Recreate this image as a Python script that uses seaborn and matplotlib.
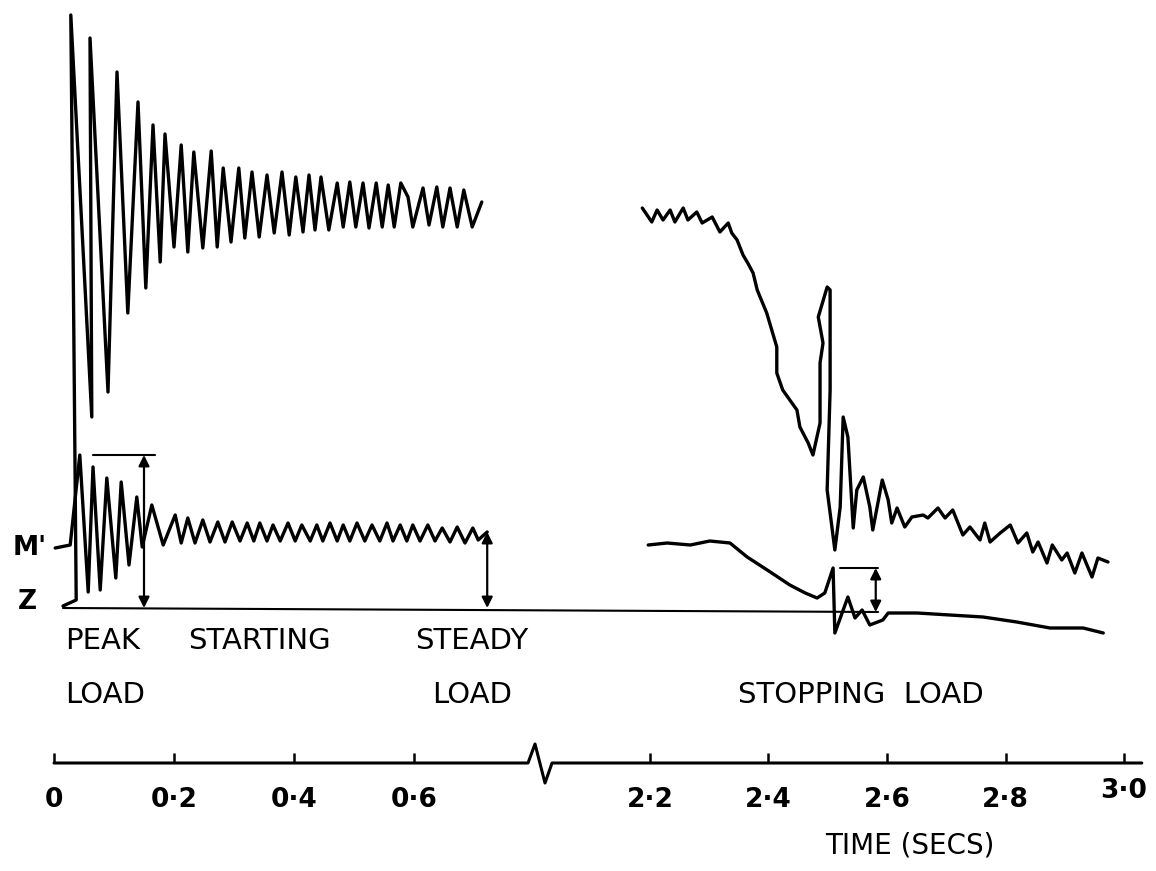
import numpy as np
import pandas as pd
import matplotlib
matplotlib.use("Agg")
import matplotlib.pyplot as plt
import matplotlib.transforms as mtransforms
import seaborn as sns

sns.set_theme(style="white")
plt.rcParams['font.family'] = ['DejaVu Sans']
plt.rcParams['text.color'] = 'black'
plt.rcParams['xtick.color'] = 'black'
plt.rcParams['xtick.labelcolor'] = 'black'

# time in secs, amplitude measured above the Z line (arbitrary units)
# upper trace, starting period
up_start_t = [0.015, 0.037, 0.033, 0.028, 0.063, 0.060, 0.090, 0.105, 0.123, 0.140,
              0.153, 0.165, 0.177, 0.185, 0.200, 0.212, 0.223, 0.233, 0.248, 0.262,
              0.272, 0.282, 0.295, 0.308, 0.318, 0.330, 0.342, 0.355, 0.367, 0.380,
              0.392, 0.403, 0.415, 0.425, 0.435, 0.445, 0.458, 0.472, 0.482, 0.493,
              0.503, 0.515, 0.525, 0.537, 0.547, 0.557, 0.567, 0.578, 0.590, 0.598,
              0.615, 0.625, 0.638, 0.648, 0.660, 0.672, 0.683, 0.697, 0.713]
up_start_a = [0.02, 0.08, 2.78, 5.93, 1.91, 5.70, 2.16, 5.36, 2.95, 5.06,
              3.20, 4.83, 3.46, 4.74, 3.61, 4.63, 3.56, 4.56, 3.60, 4.57,
              3.61, 4.40, 3.66, 4.40, 3.70, 4.36, 3.71, 4.33, 3.75, 4.36,
              3.73, 4.31, 3.76, 4.33, 3.78, 4.31, 3.78, 4.25, 3.81, 4.26,
              3.81, 4.25, 3.80, 4.25, 3.81, 4.23, 3.81, 4.25, 4.11, 3.81,
              4.20, 3.83, 4.21, 3.81, 4.20, 3.81, 4.18, 3.81, 4.06]

# M' trace, starting period
m_start_t = [0.002, 0.027, 0.043, 0.057, 0.065, 0.077, 0.088, 0.103, 0.112, 0.125,
             0.138, 0.147, 0.163, 0.182, 0.202, 0.212, 0.223, 0.235, 0.248, 0.260,
             0.273, 0.285, 0.297, 0.310, 0.322, 0.333, 0.343, 0.355, 0.365, 0.377,
             0.390, 0.402, 0.413, 0.427, 0.438, 0.448, 0.460, 0.472, 0.482, 0.493,
             0.505, 0.518, 0.530, 0.543, 0.555, 0.565, 0.577, 0.588, 0.598, 0.610,
             0.623, 0.635, 0.647, 0.660, 0.672, 0.685, 0.698, 0.707, 0.722]
m_start_a = [0.60, 0.63, 1.53, 0.16, 1.41, 0.18, 1.30, 0.30, 1.26, 0.43,
             1.11, 0.61, 1.03, 0.63, 0.93, 0.65, 0.90, 0.65, 0.88, 0.66,
             0.86, 0.66, 0.86, 0.67, 0.85, 0.67, 0.85, 0.67, 0.83, 0.67,
             0.85, 0.67, 0.83, 0.67, 0.83, 0.67, 0.85, 0.67, 0.83, 0.67,
             0.85, 0.67, 0.83, 0.67, 0.85, 0.67, 0.83, 0.67, 0.83, 0.67,
             0.83, 0.67, 0.80, 0.66, 0.81, 0.65, 0.80, 0.68, 0.76]

# upper trace, stopping period
up_stop_t = [2.187, 2.203, 2.212, 2.222, 2.234, 2.242, 2.256, 2.264, 2.279, 2.288,
             2.305, 2.318, 2.332, 2.338, 2.347, 2.357, 2.365, 2.374, 2.381, 2.397,
             2.414, 2.414, 2.424, 2.448, 2.453, 2.467, 2.475, 2.487, 2.487, 2.492,
             2.484, 2.499, 2.504, 2.504, 2.499, 2.512, 2.521, 2.526, 2.534, 2.543,
             2.549, 2.560, 2.571, 2.576, 2.592, 2.602, 2.608, 2.617, 2.630, 2.642,
             2.661, 2.669, 2.686, 2.698, 2.711, 2.728, 2.740, 2.757, 2.765, 2.774,
             2.791, 2.808, 2.821, 2.836, 2.846, 2.855, 2.870, 2.879, 2.895, 2.904,
             2.917, 2.929, 2.946, 2.956, 2.973]
up_stop_a = [4.00, 3.86, 3.98, 3.88, 3.98, 3.86, 4.00, 3.88, 3.96, 3.85,
             3.91, 3.76, 3.85, 3.75, 3.68, 3.53, 3.45, 3.35, 3.18, 2.95,
             2.61, 2.35, 2.18, 1.98, 1.81, 1.65, 1.53, 1.85, 2.45, 2.65,
             2.91, 3.21, 3.18, 2.18, 1.18, 0.58, 1.01, 1.91, 1.71, 0.80,
             1.18, 1.31, 1.01, 0.78, 1.28, 1.08, 0.85, 1.00, 0.81, 0.91,
             0.93, 0.90, 1.00, 0.90, 0.98, 0.73, 0.81, 0.68, 0.85, 0.66,
             0.75, 0.83, 0.65, 0.75, 0.56, 0.66, 0.45, 0.63, 0.48, 0.55,
             0.35, 0.55, 0.31, 0.50, 0.46]

# M' trace, stopping period
m_stop_t = [2.197, 2.229, 2.268, 2.301, 2.335, 2.364, 2.403, 2.436, 2.462, 2.482,
            2.495, 2.509, 2.512, 2.534, 2.546, 2.558, 2.571, 2.593, 2.602, 2.651,
            2.706, 2.762, 2.819, 2.875, 2.931, 2.965]
m_stop_a = [0.63, 0.65, 0.63, 0.67, 0.65, 0.51, 0.36, 0.23, 0.15, 0.10,
            0.15, 0.40, -0.25, 0.11, -0.10, -0.02, -0.17, -0.12, -0.05, -0.05,
            -0.07, -0.09, -0.14, -0.20, -0.20, -0.25]

# Z line
z_t = [0.015, 2.585]
z_a = [0.0, -0.04]

# time axis with its break mark
axis_level = -1.55
axis_t = [0.0, 0.79, 0.823, 1.052, 1.213, 3.03]
axis_a = [-1.55, -1.55, -1.36, -1.75, -1.55, -1.55]
tick_t = [0.0, 0.2, 0.4, 0.6, 2.2, 2.4, 2.6, 2.8, 3.0]
tick_labels = ["0", "0\u00b72", "0\u00b74", "0\u00b76",
               "2\u00b72", "2\u00b74", "2\u00b76", "2\u00b78", "3\u00b70"]

# load markers: (time, top, bottom)
peak_load = (0.150, 1.53, 0.0)
steady_load = (0.722, 0.76, 0.0)
stop_load = (2.581, 0.40, -0.04)
peak_bar_t = [0.065, 0.168]
stop_bar_t = [2.521, 2.585]


# broken time scale: 0-0.8 s and 2.1-3.05 s, gap squeezed in between
K = 0.09455 / 1.3
B = 0.89455


def fwd(t):
    t = np.asarray(t, dtype=float)
    return np.where(t <= 0.8, t,
                    np.where(t < 2.1, 0.8 + (t - 0.8) * K,
                             0.9933 + (t - 2.2) * 0.9875))


def inv(d):
    d = np.asarray(d, dtype=float)
    return np.where(d <= 0.8, d,
                    np.where(d < B, 0.8 + (d - 0.8) / K,
                             2.2 + (d - 0.9933) / 0.9875))


fig = plt.figure(figsize=(11.56, 8.71), dpi=100)
ax = fig.add_axes([0, 0, 1, 1])
ax.set_xscale('function', functions=(fwd, inv))

lw = 2.4
for tt, aa in [(up_start_t, up_start_a), (m_start_t, m_start_a),
               (up_stop_t, up_stop_a), (m_stop_t, m_stop_a)]:
    df = pd.DataFrame({'t': tt, 'a': aa})
    sns.lineplot(data=df, x='t', y='a', sort=False, estimator=None,
                 color='black', lw=lw, ax=ax)

sns.lineplot(x=z_t, y=z_a, sort=False, estimator=None, color='black', lw=1.5, ax=ax)
sns.lineplot(x=axis_t, y=axis_a, sort=False, estimator=None, color='black', lw=2.2, ax=ax)
ax.plot(peak_bar_t, [peak_load[1]] * 2, color='black', lw=1.5)
ax.plot(stop_bar_t, [stop_load[1]] * 2, color='black', lw=1.5)

for t, top, bot in [peak_load, steady_load, stop_load]:
    ax.annotate('', xy=(t, top), xytext=(t, bot),
                arrowprops=dict(arrowstyle='<|-|>', color='black', lw=1.6,
                                mutation_scale=16, shrinkA=0, shrinkB=0))

ax.set_xlim(-0.09, 3.054)
ax.set_ylim(-2.63, 6.08)
for s in ax.spines.values():
    s.set_visible(False)
ax.spines['bottom'].set_position(('data', axis_level))
ax.set_xticks(tick_t, tick_labels)
ax.minorticks_off()
ax.tick_params(axis='x', direction='in', length=7, width=1.8, color='black',
               pad=17, labelsize=19, labelcolor='black', bottom=True)
ax.tick_params(axis='y', left=False, labelleft=False)
labels = ax.get_xticklabels()
for lab in labels:
    lab.set_fontweight('bold')
# the 3.0 label sits a little higher on the original
labels[-1].set_transform(labels[-1].get_transform() +
                         mtransforms.ScaledTranslation(0, 6 / 72, fig.dpi_scale_trans))
ax.set_xlabel('')
ax.set_ylabel('')
ax.grid(False)

fs = 21
ax.text(-0.04, 0.60, "M'", fontsize=19, ha='center', va='center', fontweight='bold')
ax.text(-0.045, 0.06, "Z", fontsize=19, ha='center', va='center', fontweight='bold')
ax.text(0.018, -0.33, "PEAK", fontsize=fs, ha='left', va='center')
ax.text(0.223, -0.33, "STARTING", fontsize=fs, ha='left', va='center')
ax.text(0.018, -0.87, "LOAD", fontsize=fs, ha='left', va='center')
ax.text(0.602, -0.33, "STEADY", fontsize=fs, ha='left', va='center')
ax.text(0.630, -0.87, "LOAD", fontsize=fs, ha='left', va='center')
ax.text(2.349, -0.87, "STOPPING  LOAD", fontsize=fs, ha='left', va='center')
ax.text(2.495, -2.37, "TIME (SECS)", fontsize=20, ha='left', va='center')

fig.savefig('out.png', dpi=100, facecolor='white')
